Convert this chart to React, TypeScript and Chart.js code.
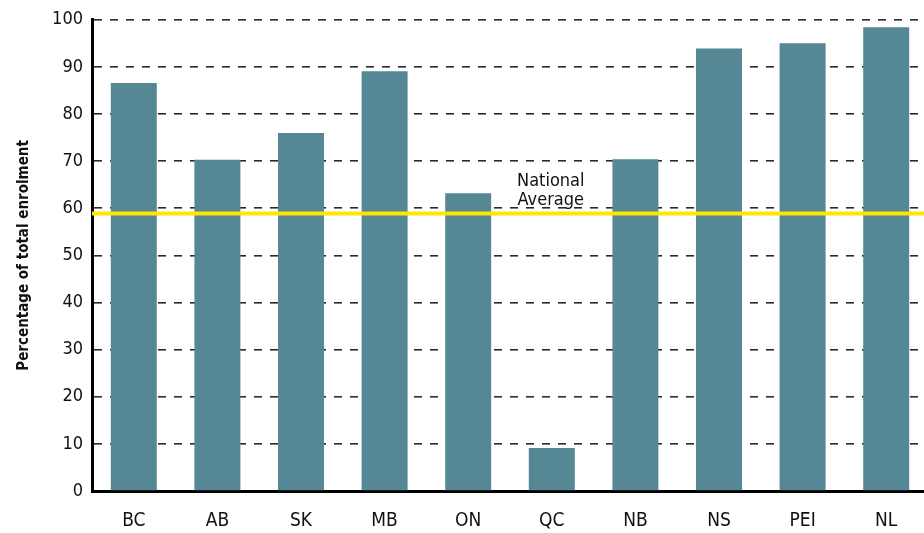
import React, { useEffect, useRef } from "react";
import { Chart, registerables } from "chart.js";

Chart.register(...registerables);

const provinces = ["BC", "AB", "SK", "MB", "ON", "QC", "NB", "NS", "PEI", "NL"];
const enrolmentPct = [86.6, 70.3, 76.0, 89.1, 63.2, 9.1, 70.4, 93.9, 95.0, 98.4];
const nationalAverage = 58.9;
const yTicksMax = 100;
const yTickStep = 10;
const yTitle = "Percentage of total enrolment";
const avgLabel = ["National", "Average"];

const FONT = "'DejaVu Sans Condensed', 'Liberation Sans', sans-serif";

const overlayPlugin = {
  id: "overlay",
  afterDatasetsDraw(chart: any) {
    const { ctx, chartArea, scales } = chart;
    const y = scales.y.getPixelForValue(nationalAverage);
    ctx.save();
    ctx.strokeStyle = "#FFE600";
    ctx.lineWidth = 4;
    ctx.beginPath();
    ctx.moveTo(chartArea.left, y);
    ctx.lineTo(chartArea.right, y);
    ctx.stroke();

    const cx = scales.x.getPixelForValue(5) - 1;
    ctx.fillStyle = "#111";
    ctx.font = `18px ${FONT}`;
    ctx.textAlign = "center";
    ctx.textBaseline = "alphabetic";
    ctx.fillText(avgLabel[0], cx, y - 27);
    ctx.fillText(avgLabel[1], cx, y - 8);
    ctx.restore();
  },
  afterDraw(chart: any) {
    const { ctx, chartArea } = chart;
    ctx.save();
    ctx.translate(24, (chartArea.top + chartArea.bottom) / 2);
    ctx.rotate(-Math.PI / 2);
    ctx.fillStyle = "#111";
    ctx.font = `bold 15px ${FONT}`;
    ctx.textAlign = "center";
    ctx.textBaseline = "middle";
    ctx.fillText(yTitle, 0, 0);
    ctx.restore();
  },
};

export default function App() {
  const ref = useRef<HTMLCanvasElement | null>(null);
  useEffect(() => {
    if (!ref.current) return;
    const chart = new Chart(ref.current, {
      type: "bar",
      data: {
        labels: provinces,
        datasets: [
          {
            data: enrolmentPct,
            backgroundColor: "#558795",
            borderWidth: 0,
            barPercentage: 0.55,
            categoryPercentage: 1,
          },
        ],
      },
      options: {
        animation: false,
        responsive: true,
        maintainAspectRatio: false,
        layout: { padding: { top: 17, right: 2, left: 0, bottom: 0 } },
        plugins: { legend: { display: false }, tooltip: { enabled: false }, title: { display: false } },
        scales: {
          x: {
            grid: { display: false, drawTicks: false },
            border: { display: true, color: "#000", width: 3 },
            ticks: { color: "#111", font: { family: FONT, size: 19 }, padding: 19 },
            afterFit: (s: any) => {
              s.height = 42;
            },
          },
          y: {
            min: 0,
            max: yTicksMax,
            ticks: { stepSize: yTickStep, color: "#111", font: { family: FONT, size: 18 }, padding: 9 },
            grid: { color: "#2a2a2a", lineWidth: 1.6, drawTicks: false },
            border: { display: true, color: "#000", width: 3, dash: [8, 8] },
            afterFit: (s: any) => {
              s.width = 92;
            },
          },
        },
      },
      plugins: [overlayPlugin],
    });
    return () => chart.destroy();
  }, []);
  return (
    <div style={{ position: "fixed", left: 0, top: 0, width: 924, height: 533, overflow: "hidden", background: "#fff" }}>
      <div style={{ position: "relative", width: 930, height: 533 }}>
        <canvas ref={ref} />
      </div>
    </div>
  );
}
